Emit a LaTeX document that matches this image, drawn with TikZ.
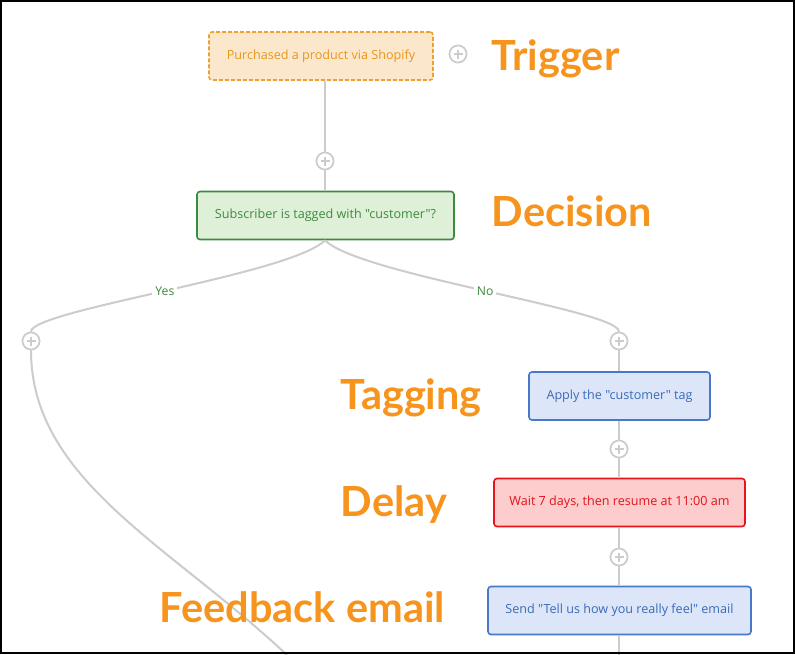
\documentclass[tikz,border=0pt]{standalone}
\usepackage{fontspec}
\setmainfont{Open Sans}[Ligatures=TeXOff]
\newfontfamily\headfont{Lato}
\begin{document}
\begin{tikzpicture}[x=1pt,y=-1pt,
  line width=1.5pt,
  conn/.style={draw=lineg, line width=2pt},
  box/.style={rectangle, rounded corners=3pt, line width=1.6pt, minimum height=48pt, font=\fontsize{12.6}{14}\selectfont, inner sep=0pt},
  trigbox/.style={box, draw=trigline, fill=trigfill, text=trigtext, dash pattern=on 4pt off 2pt},
  decbox/.style={box, draw=greenline, fill=greenfill, text=greentext},
  bluebox/.style={box, draw=blueline, fill=bluefill, text=bluetext},
  redbox/.style={box, draw=redline, fill=redfill, text=redtext},
  plusnode/.style={circle, draw=lineg, fill=white, line width=1.6pt, minimum size=17pt, inner sep=0pt,
    path picture={\draw[lineg, line width=1.6pt] ([xshift=-4.5pt]path picture bounding box.center) -- ([xshift=4.5pt]path picture bounding box.center);
                  \draw[lineg, line width=1.6pt] ([yshift=-4.5pt]path picture bounding box.center) -- ([yshift=4.5pt]path picture bounding box.center);}},
  head/.style={text=headorange, font=\headfont\bfseries\fontsize{41.5}{45}\selectfont, inner sep=0pt},
  lbl/.style={fill=white, text=greentext, font=\fontsize{12.2}{14}\selectfont, inner sep=3pt}
]
\definecolor{lineg}{HTML}{CCCCCC}
\definecolor{headorange}{HTML}{F7941D}
\definecolor{trigline}{HTML}{F0A030}
\definecolor{trigfill}{HTML}{FBE8CC}
\definecolor{trigtext}{HTML}{E8961E}
\definecolor{greenline}{HTML}{3D8B3D}
\definecolor{greenfill}{HTML}{DFF0D8}
\definecolor{greentext}{HTML}{3C8A3C}
\definecolor{blueline}{HTML}{4A78C8}
\definecolor{bluefill}{HTML}{DCE6F8}
\definecolor{bluetext}{HTML}{3A6AB8}
\definecolor{redline}{HTML}{E8141C}
\definecolor{redfill}{HTML}{FDCDCE}
\definecolor{redtext}{HTML}{E0141C}

\useasboundingbox (0,0) rectangle (795,654);
\fill[white] (0,0) rectangle (795,654);

% boxes
\node[trigbox, minimum width=224pt] (trig) at (321,56) {Purchased a product via Shopify};
\node[decbox, minimum width=257pt] (dec) at (325.5,215.5) {Subscriber is tagged with "customer"?};
\node[bluebox, minimum width=181pt] (tag) at (619.5,396) {Apply the "customer" tag};
\node[redbox, minimum width=251pt] (delay) at (619.5,502.5) {Wait 7 days, then resume at 11:00 am};
\node[bluebox, minimum width=263pt] (mail) at (619.5,610.5) {Send "Tell us how you really feel" email};

% plus nodes
\node[plusnode] (ptrig) at (458,54) {};
\node[plusnode] (p1) at (325,161) {};
\node[plusnode] (pyes) at (31,341) {};
\node[plusnode] (pno) at (619,341) {};
\node[plusnode] (p2) at (619,449) {};
\node[plusnode] (p3) at (619,557) {};
\coordinate (leftend) at (287,655);
\coordinate (bottomend) at (619,655);

% connectors
\draw[conn] (trig.south -| p1) -- (p1);
\draw[conn] (p1) -- (dec.north -| p1);
\draw[conn] (dec.south -| p1) .. controls (290,275) and (31,310) .. node[lbl, pos=0.5] {Yes} (pyes.north);
\draw[conn] (dec.south -| p1) .. controls (360,275) and (619,310) .. node[lbl, pos=0.5] {No} (pno.north);
\draw[conn] (pno) -- (tag.north -| pno);
\draw[conn] (tag.south -| p2) -- (p2);
\draw[conn] (p2) -- (delay.north -| p2);
\draw[conn] (delay.south -| p3) -- (p3);
\draw[conn] (p3) -- (mail.north -| p3);
\draw[conn] (mail.south -| p3) -- (bottomend);
\draw[conn] (pyes.south) .. controls (31,480) and (170,545) .. (leftend);

% redraw plus nodes on top
\node[plusnode] at (ptrig) {};
\node[plusnode] at (p1) {};
\node[plusnode] at (pyes) {};
\node[plusnode] at (pno) {};
\node[plusnode] at (p2) {};
\node[plusnode] at (p3) {};

% headings
\node[head, anchor=base west] (hTrig) at (491,70) {Trigger};
\node[head, anchor=base west] (hDec) at (491,226) {Decision};
\node[head, anchor=base west] (hTag) at (340,409) {Tagging};
\node[head, anchor=base west] (hDel) at (340,516) {Delay};
\node[head, anchor=base west] (hFb) at (159,622) {Feedback email};

% frame
\draw[black, line width=2pt] (1,1) rectangle (794,653);
\end{tikzpicture}
\end{document}
